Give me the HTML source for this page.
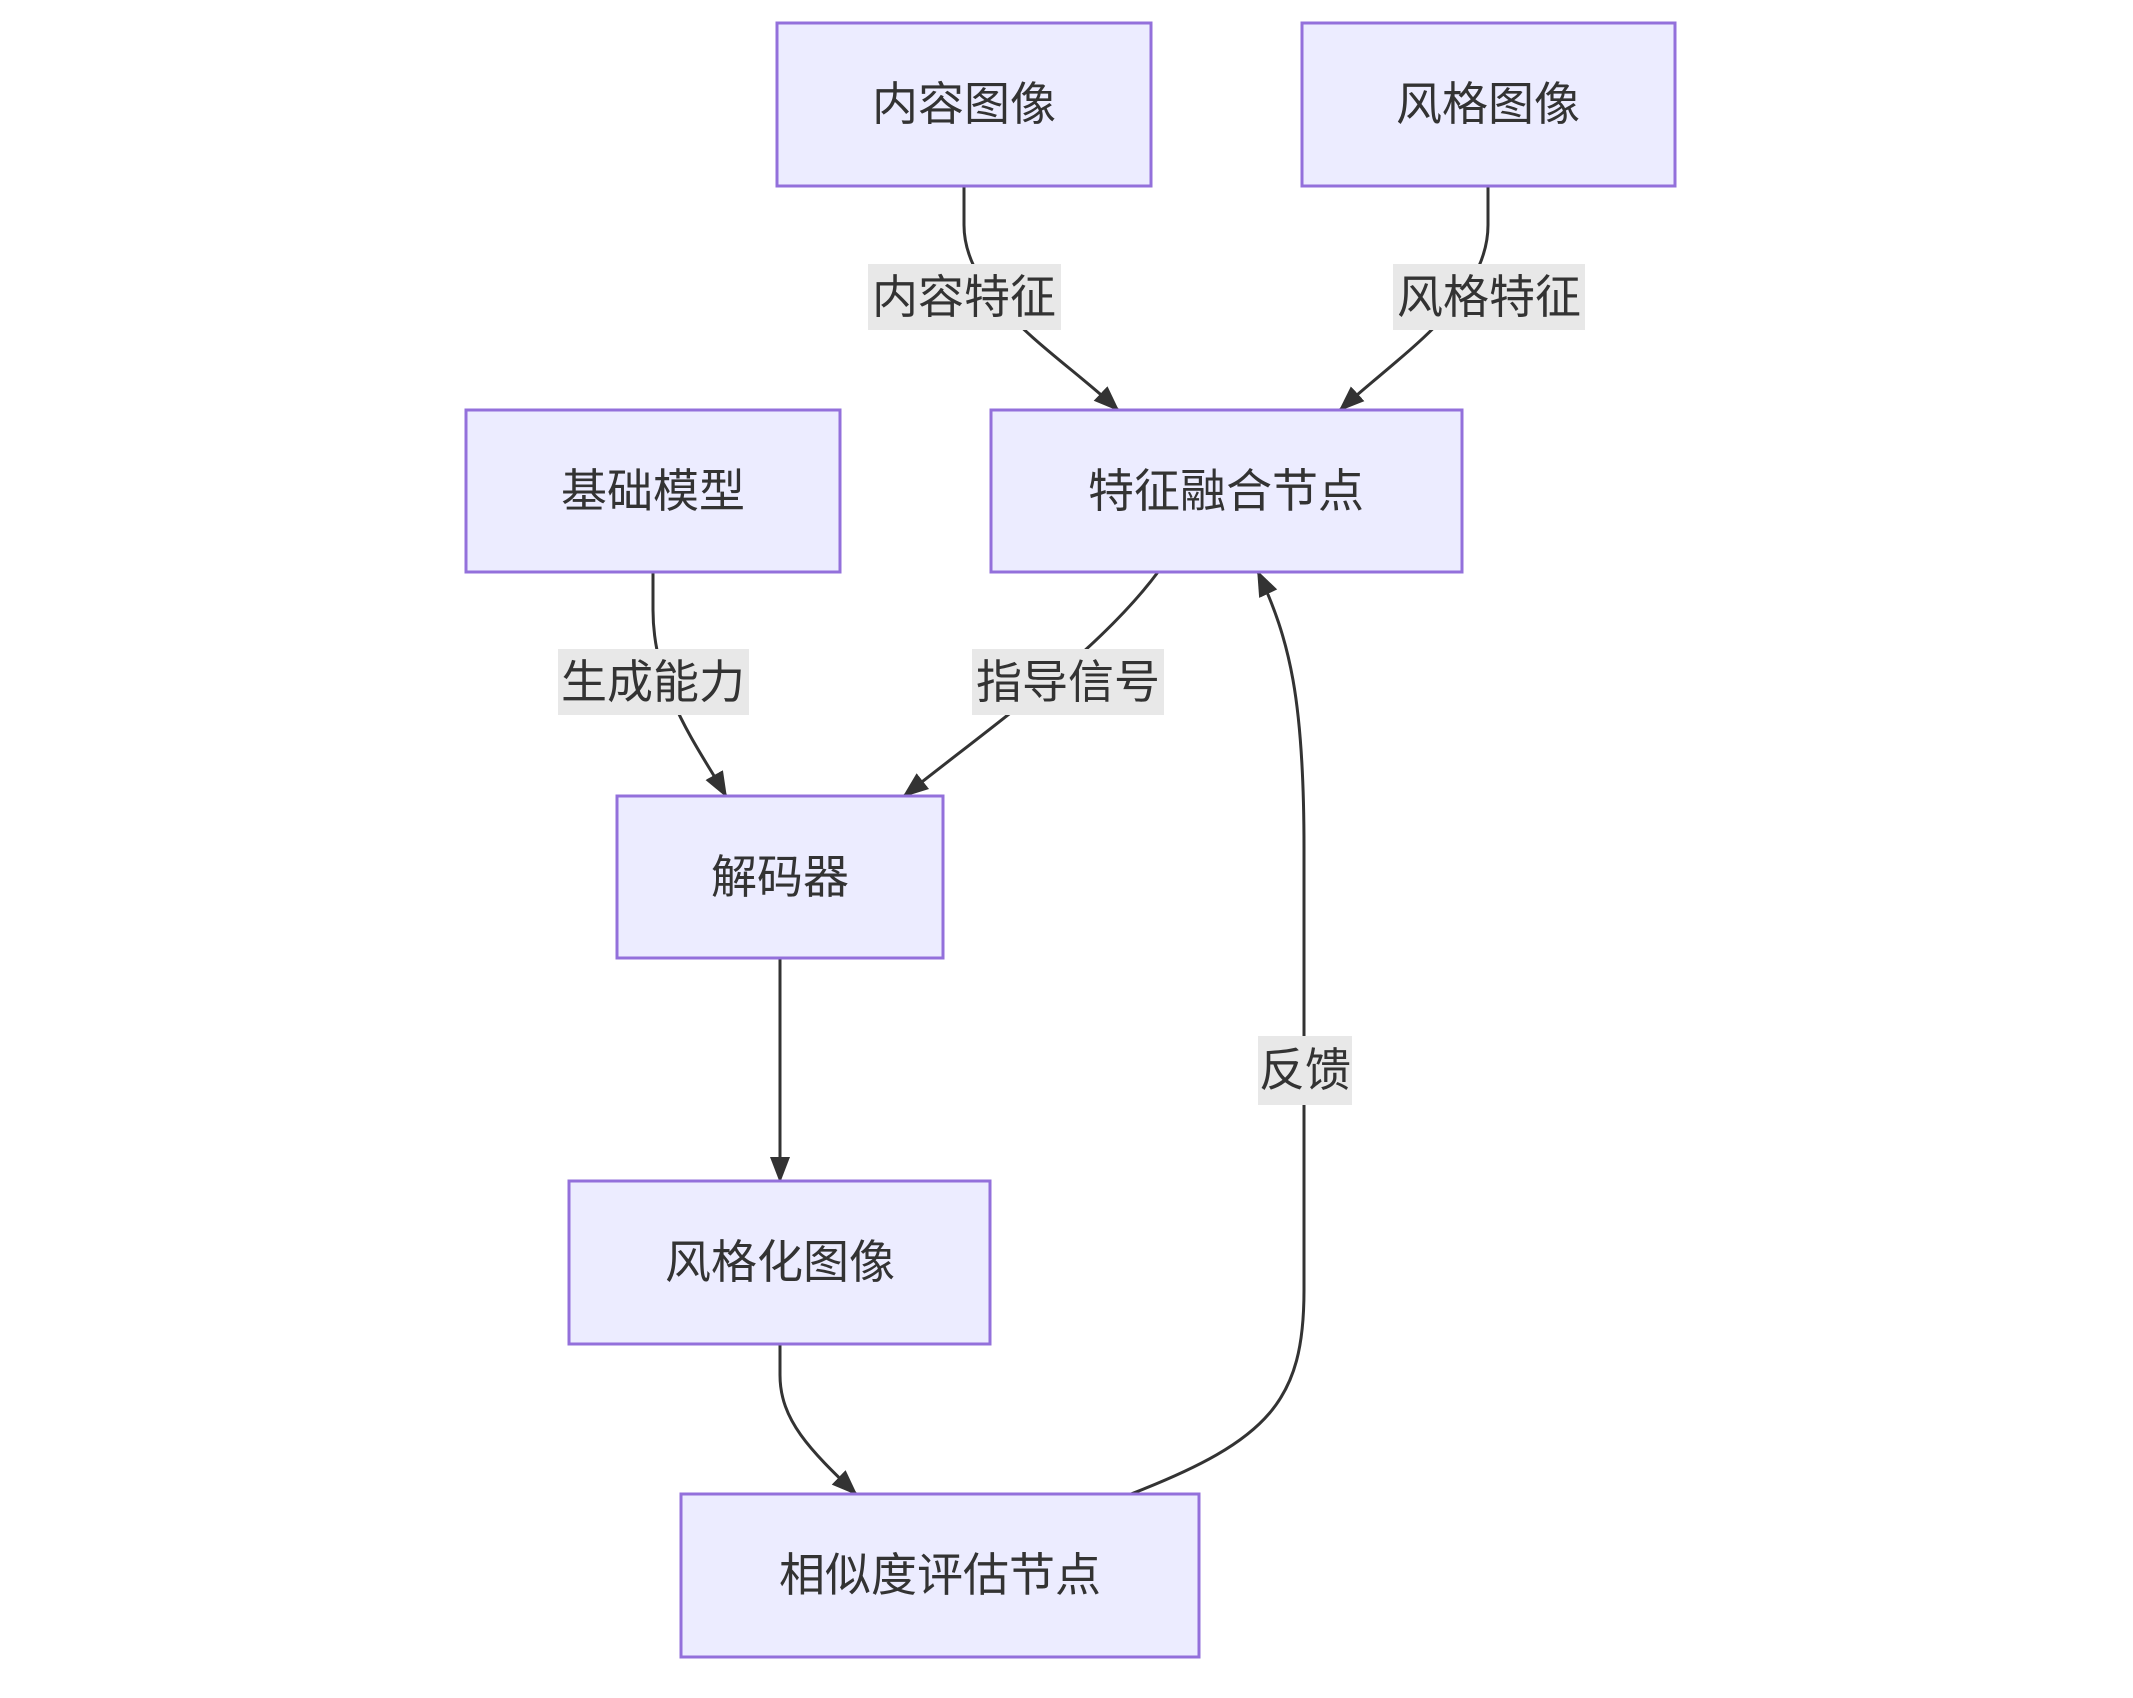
<!DOCTYPE html>
<html><head><meta charset="utf-8"><style>
html,body{margin:0;padding:0;background:#fff;}
svg{display:block;}
text{font-family:"Liberation Sans","Noto Sans CJK SC",sans-serif;font-size:46px;fill:#333;}
.n{fill:#ECECFF;stroke:#9370DB;stroke-width:3;}
.e{fill:none;stroke:#333;stroke-width:3;}
.l{fill:#e8e8e8;}
</style></head><body>
<svg width="2133" height="1698" viewBox="0 0 2133 1698" xmlns="http://www.w3.org/2000/svg">
<defs>
<marker id="a" markerWidth="10" markerHeight="10" refX="9" refY="5" orient="auto" markerUnits="userSpaceOnUse" viewBox="0 0 10 10">
<path d="M0,0 L10,5 L0,10 z" fill="#333"/>
</marker>
<marker id="b" markerWidth="26" markerHeight="26" refX="24" refY="13" orient="auto" markerUnits="userSpaceOnUse" viewBox="0 0 26 26">
<path d="M0,3 L26,13 L0,23 z" fill="#333"/>
</marker>
</defs>
<!-- edges -->
<path class="e" marker-end="url(#b)" d="M964,186 L964,225 C964,300 1060,355 1118,410"/>
<path class="e" marker-end="url(#b)" d="M1488,186 L1488,225 C1488,300 1400,355 1340,410"/>
<path class="e" marker-end="url(#b)" d="M653,572 L653,610 C653,690 700,750 726,796"/>
<path class="e" marker-end="url(#b)" d="M1158,572 C1100,650 1000,720 904,796"/>
<path class="e" marker-end="url(#b)" d="M780,958 L780,1181"/>
<path class="e" marker-end="url(#b)" d="M780,1344 L780,1375 C780,1420 810,1450 856,1494"/>
<path class="e" marker-end="url(#b)" d="M1131,1494 C1270,1440 1304,1400 1304,1290 L1304,848 C1304,700 1290,640 1258,572"/>
<!-- nodes -->
<rect class="n" x="777" y="23" width="374" height="163"/>
<text x="964" y="104" text-anchor="middle" dominant-baseline="central">内容图像</text>
<rect class="n" x="1302" y="23" width="373" height="163"/>
<text x="1488" y="104" text-anchor="middle" dominant-baseline="central">风格图像</text>
<rect class="n" x="466" y="410" width="374" height="162"/>
<text x="653" y="491" text-anchor="middle" dominant-baseline="central">基础模型</text>
<rect class="n" x="991" y="410" width="471" height="162"/>
<text x="1226" y="491" text-anchor="middle" dominant-baseline="central">特征融合节点</text>
<rect class="n" x="617" y="796" width="326" height="162"/>
<text x="780" y="877" text-anchor="middle" dominant-baseline="central">解码器</text>
<rect class="n" x="569" y="1181" width="421" height="163"/>
<text x="780" y="1262" text-anchor="middle" dominant-baseline="central">风格化图像</text>
<rect class="n" x="681" y="1494" width="518" height="163"/>
<text x="940" y="1575" text-anchor="middle" dominant-baseline="central">相似度评估节点</text>
<!-- labels -->
<rect class="l" x="868" y="264" width="193" height="66"/>
<text x="964" y="297" text-anchor="middle" dominant-baseline="central">内容特征</text>
<rect class="l" x="1393" y="264" width="192" height="66"/>
<text x="1489" y="297" text-anchor="middle" dominant-baseline="central">风格特征</text>
<rect class="l" x="558" y="649" width="191" height="66"/>
<text x="653" y="682" text-anchor="middle" dominant-baseline="central">生成能力</text>
<rect class="l" x="972" y="649" width="192" height="66"/>
<text x="1068" y="682" text-anchor="middle" dominant-baseline="central">指导信号</text>
<rect class="l" x="1258" y="1036" width="94" height="69"/>
<text x="1305" y="1070" text-anchor="middle" dominant-baseline="central">反馈</text>
</svg>
</body></html>
